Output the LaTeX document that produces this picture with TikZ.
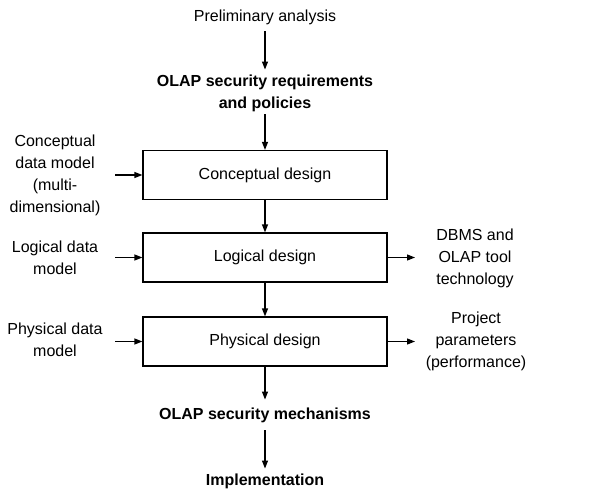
\documentclass[tikz,border=0pt]{standalone}
\usepackage{fontspec}
\setmainfont{Liberation Sans}
\usetikzlibrary{arrows.meta}
\begin{document}
\begin{tikzpicture}[x=1pt,y=-1pt,
  txt/.style={inner sep=0pt,outer sep=5pt,align=center,font=\fontsize{16}{22}\selectfont},
  btxt/.style={txt,font=\fontsize{16}{22}\selectfont\bfseries},
  stage/.style={draw,line width=1.2pt,minimum width=244pt,minimum height=49pt,inner sep=0pt,font=\fontsize{16}{22}\selectfont},
  arr/.style={line width=1.2pt,-{Triangle[length=8pt,width=6pt]}}]
\useasboundingbox (0,0) rectangle (602,493);
\node[txt] (pa) at (265,17) {Preliminary analysis};
\node[btxt] (req) at (265,93) {OLAP security requirements\\and policies};
\node[stage] (cd) at (265,175) {Conceptual design};
\node[stage] (ld) at (265,257.5) {Logical design};
\node[stage] (pd) at (265,341.5) {Physical design};
\node[btxt] (mech) at (265,415) {OLAP security mechanisms};
\node[btxt] (impl) at (265,481) {Implementation};
\node[txt] (lc) at (55,175) {Conceptual\\data model\\(multi-\\dimensional)};
\node[txt] (ll) at (55,258) {Logical data\\model};
\node[txt] (lp) at (55,340) {Physical data\\model};
\node[txt] (rd) at (475,258) {DBMS and\\OLAP tool\\technology};
\node[txt] (rp) at (476,341) {Project\\parameters\\(performance)};
\coordinate (lcs) at (115,175);
\coordinate (lls) at (115,257.5);
\coordinate (lps) at (115,341.5);
\coordinate (rde) at (415,257.5);
\coordinate (rpe) at (415,341.5);
\draw[arr,shorten <=2pt] (pa) -- (req);
\draw[arr,shorten <=-2pt] (req) -- (cd);
\draw[arr] (cd) -- (ld);
\draw[arr] (ld) -- (pd);
\draw[arr,shorten >=3pt] (pd) -- (mech);
\draw[arr,shorten <=3pt] (mech) -- (impl);
\draw[arr] (lcs) -- (cd.west);
\draw[arr] (lls) -- (ld.west);
\draw[arr] (lps) -- (pd.west);
\draw[arr] (ld.east) -- (rde);
\draw[arr] (pd.east) -- (rpe);
\end{tikzpicture}
\end{document}
